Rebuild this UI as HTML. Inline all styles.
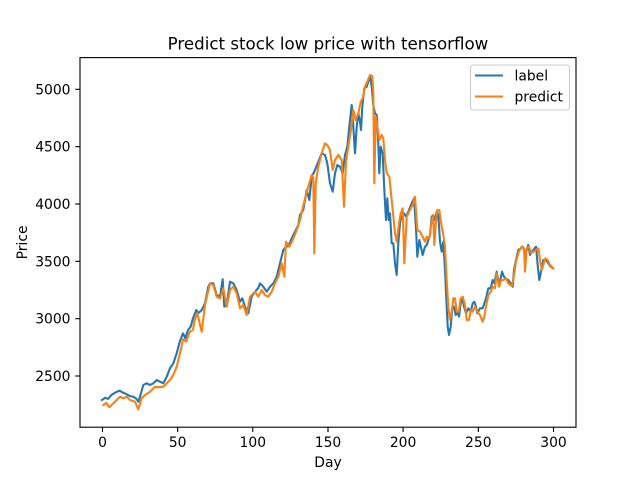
<!DOCTYPE html>
<html><head><meta charset="utf-8"><style>
html,body{margin:0;padding:0;background:#fff;}
svg{display:block;}
text{font-family:"DejaVu Sans","Liberation Sans",sans-serif;fill:#000;}
</style></head><body>
<svg width="640" height="480" viewBox="0 0 640 480" xmlns="http://www.w3.org/2000/svg">
<rect x="0" y="0" width="640" height="480" fill="#fff"/>
<g fill="none" stroke-width="2.08" stroke-linejoin="round" stroke-linecap="square">
<polyline stroke="#1f77b4" points="102,400 105.3,397.7 108,399 111.3,395 116.3,392 119.7,390.7 123,392.7 126.3,394 129.7,396 133,396.7 136.3,398.7 138.3,401.7 140,396.7 143.3,385 146.7,383.3 150,385 153.3,383.3 156.7,380 160,381.7 163.3,383.3 166.7,376.7 170,368.3 173.3,363.3 176.7,353.3 179.7,341.7 183,333.3 185.3,338.3 188,330 190.7,326.7 193,318.3 196.3,310 198.3,313.3 201.7,310 205,303.3 208.3,286.7 210,283.3 213.3,283.3 216.7,295 220,296.7 222.7,279.3 224.3,306.7 226.7,305 230,281.7 233.3,283.3 236.7,290 240,301.7 242.3,298.3 245,306.7 248.3,313.3 251.7,296.7 255,291.7 258.3,288 260,283.3 263.3,286.7 266.7,291.7 270,286.7 273.3,283.3 276.7,276.7 280,263.3 283.3,250 286,246.7 288.5,246 291.7,238.3 295,231.7 298.3,225 300,215 303.3,210 306.7,190 309.3,200 311.7,176.7 315,170 318.3,161.7 321.7,153.3 325,155 327.3,163.3 330,183.3 332.7,191.7 335,173.3 337.3,165 340,166.7 342.7,173.3 345,155 347.3,146.7 349.3,126.7 351.7,105 353.3,126.7 355,153.3 356.7,126.7 358.3,113.3 360,121.7 361,130 362.3,106.7 364.3,88.3 366.7,86.7 368.3,81.7 370,76.7 371.7,86.7 373.3,105 375,113.3 376.7,115 378.3,143.3 379.3,173.3 380.7,146.7 382.7,153.3 384.3,190 386,220 387.3,198.3 388.7,220 390,213.3 391.7,243.3 393.3,243.3 395,263.3 396.7,275 398.3,243.3 400,223.3 401.7,215 404,213.3 406,216.7 408.3,211.7 411.7,203.3 414,198.3 416,228.3 417.3,256.7 419.3,240 422.7,255 425,246.7 426.7,245 430,235 431.7,216.7 433.3,215 435,220 436.7,211.7 438.3,215 440,241.7 441.7,251.7 443.3,241.7 445,270 446.7,306.7 447.7,326.7 449,335 450.7,326.7 452.3,308.3 454,306.7 455.7,315 457.3,311.7 459,316.7 460.7,303.3 462.3,298.3 464,306.7 466,313.3 468.3,308.3 470.7,311.7 472.7,303.3 474.3,301.7 476,306.7 477.3,313.3 480,308.3 482.7,308.3 484.3,303.3 486,298.3 488.3,288.3 490.7,288.3 492.7,280 494.3,283.3 496.7,271.7 498.3,280 500,281.7 502,271.7 504,276.7 506,279 508.3,280 510.7,283.3 512.7,286.7 514,270 516,260 518.3,250 520.7,248.3 522.7,246.7 525,251.7 526.7,250 528.3,245 530,255 531.7,251.7 533.3,250 536,246.7 537.7,265 539.3,280 541,271.7 543.3,260 546,260 548.3,263.3 550.7,266.7 553.3,268.3"/>
<polyline stroke="#ff7f0e" points="103.3,405 106.3,403 109.3,407.3 113.3,403.3 116.7,400 120,396.7 123.3,398.3 126.7,396.7 130,400 135,401.7 138.3,409.3 141.7,398.3 145,395 150,391.7 155,386.7 158.3,387.3 163.3,386.7 166.7,383.3 170,380 173.3,375 176.7,366.7 180,353.3 183,339.3 186.3,341.7 189.7,331.7 193,330 194.7,320 197.3,313.3 201.7,331.7 205,305 210,283.3 213.3,285 216.7,296.7 220,298.3 223.3,288.3 226.7,306.7 230,290 233.3,286.7 236.7,293.3 240,308.3 243.3,305 246.7,315 250,296.7 255,291.7 258.3,296.7 261.7,290 265,295 268.3,296.7 271.7,291.7 275,283.3 278.3,276.7 281.7,263.3 284.3,276.7 286,241.7 289.3,246.7 292.7,240 296.7,230 300,220 302.7,208.3 305,198.3 308.3,186.7 311.7,175 313.3,178 314.3,253.3 315.7,183.3 318.3,166.7 321.7,153.3 325,143.3 327.3,145 330,150 332.7,170 335,160 338.3,155 341.7,160 344,206.7 346,161.7 348.3,146.7 350.7,131.7 353.3,110 355.7,120 358.3,113.3 360.7,101.7 362.7,98.3 365,86.7 367.3,81.7 370,75 372.3,76 373.3,93.3 374.3,183.3 375.7,116.7 377.3,126.7 379.3,140 381.7,135 383.3,138.3 385,160 386.7,173.3 389.3,176.7 391,193.3 392.7,210 395,233.3 396.7,241.7 399,223.3 400.7,213.3 402.7,208.3 404.3,263.3 406.7,216.7 410,210 412.7,205 415,196.7 417.3,230 420,231.7 422.7,236.7 425,241.7 426.7,236.7 429.3,238.3 431.7,221.7 433.3,215 434.3,245 435.7,225 437.3,210 439.3,210 441.7,226.7 443.3,235 445,246.7 446.7,280 448.3,306.7 450,320 451.7,311.7 453.3,298.3 455,298.3 456.7,311.7 458.7,311.7 460.7,298.3 462.7,296.7 465,305 466.7,320 469,320 470.7,310 472.7,311.7 475,306.7 477.3,311.7 480,315 482.7,321.7 484.3,316.7 486,306.7 488.3,295 490.7,291.7 492.7,286.7 495,288.3 496.7,273.3 499,286.7 501,280 503.3,280 506,278.3 508.3,283.3 511.7,286 513.3,280 516,261.7 518.7,251.7 521.7,246.7 524,248.3 525,271.7 526.7,248.3 529,246.7 531,253.3 533.3,251.7 536,250 538.3,248.3 540,260 541.7,270 543.3,265 545.3,258.3 547.7,260 550,265 553.3,268.3"/>
</g>
<rect x="80" y="57.6" width="496" height="369.6" fill="none" stroke="#000" stroke-width="1.1"/>
<g stroke="#000" stroke-width="1.1">
<line x1="102.5" y1="427.2" x2="102.5" y2="432"/>
<line x1="177.7" y1="427.2" x2="177.7" y2="432"/>
<line x1="252.8" y1="427.2" x2="252.8" y2="432"/>
<line x1="328" y1="427.2" x2="328" y2="432"/>
<line x1="403.1" y1="427.2" x2="403.1" y2="432"/>
<line x1="478.3" y1="427.2" x2="478.3" y2="432"/>
<line x1="553.5" y1="427.2" x2="553.5" y2="432"/>
<line x1="75.2" y1="376" x2="80" y2="376"/>
<line x1="75.2" y1="318.7" x2="80" y2="318.7"/>
<line x1="75.2" y1="261.3" x2="80" y2="261.3"/>
<line x1="75.2" y1="204" x2="80" y2="204"/>
<line x1="75.2" y1="146.7" x2="80" y2="146.7"/>
<line x1="75.2" y1="89.3" x2="80" y2="89.3"/>
</g>
<g font-size="13.89" text-anchor="middle">
<text x="102.5" y="447">0</text>
<text x="177.7" y="447">50</text>
<text x="252.8" y="447">100</text>
<text x="328" y="447">150</text>
<text x="403.1" y="447">200</text>
<text x="478.3" y="447">250</text>
<text x="553.5" y="447">300</text>
</g>
<g font-size="13.89" text-anchor="end">
<text x="70.5" y="381">2500</text>
<text x="70.5" y="323.7">3000</text>
<text x="70.5" y="266.3">3500</text>
<text x="70.5" y="209">4000</text>
<text x="70.5" y="151.7">4500</text>
<text x="70.5" y="94.3">5000</text>
</g>
<text x="328" y="467" font-size="13.89" text-anchor="middle">Day</text>
<text transform="translate(27,242.4) rotate(-90)" font-size="13.89" text-anchor="middle">Price</text>
<text x="328" y="49.3" font-size="16.67" text-anchor="middle">Predict stock low price with tensorflow</text>
<rect x="470.5" y="65" width="99" height="45" rx="2.8" fill="#fff" fill-opacity="0.8" stroke="#cccccc" stroke-width="1.1"/>
<line x1="475" y1="75.5" x2="503" y2="75.5" stroke="#1f77b4" stroke-width="2.08"/>
<line x1="475" y1="96.5" x2="503" y2="96.5" stroke="#ff7f0e" stroke-width="2.08"/>
<text x="514.5" y="80.5" font-size="13.89">label</text>
<text x="514.5" y="101.5" font-size="13.89">predict</text>
</svg>
</body></html>
